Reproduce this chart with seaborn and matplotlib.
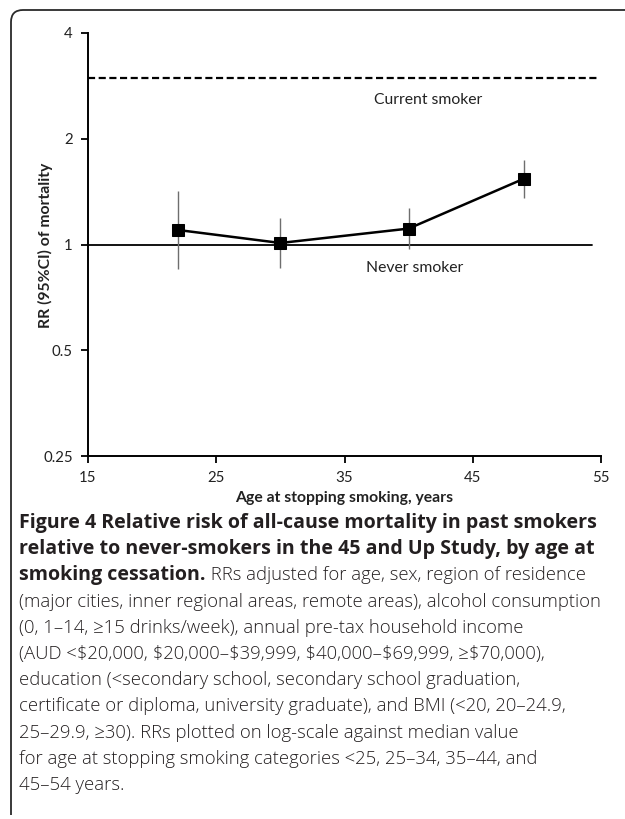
import matplotlib
matplotlib.use("Agg")
import matplotlib.pyplot as plt
import seaborn as sns
import pandas as pd
from matplotlib.path import Path
from matplotlib.patches import PathPatch

# ---------------- data ----------------
ages = [22, 30, 40, 49]
rr = [1.10, 1.01, 1.11, 1.54]
rr_lo = [0.85, 0.86, 0.97, 1.36]
rr_hi = [1.42, 1.19, 1.27, 1.74]
current_smoker_rr = 2.97
never_smoker_rr = 1.0
x_ticks = [15, 25, 35, 45, 55]
y_ticks = [0.25, 0.5, 1, 2, 4]
y_tick_labels = ["0.25", "0.5", "1", "2", "4"]
x_label = "Age at stopping smoking, years"
y_label = "RR (95%CI) of mortality"
caption_bold = [
    "Figure 4 Relative risk of all-cause mortality in past smokers",
    "relative to never-smokers in the 45 and Up Study, by age at",
    "smoking cessation.",
]
caption_regular_tail = " RRs adjusted for age, sex, region of residence"
caption_regular = [
    "(major cities, inner regional areas, remote areas), alcohol consumption",
    "(0, 1\u201314, \u226515 drinks/week), annual pre-tax household income",
    "(AUD <\\$20,000, \\$20,000\u2013\\$39,999, \\$40,000\u2013\\$69,999, \u2265\\$70,000),",
    "education (<secondary school, secondary school graduation,",
    "certificate or diploma, university graduate), and BMI (<20, 20\u201324.9,",
    "25\u201329.9, \u226530). RRs plotted on log-scale against median value",
    "for age at stopping smoking categories <25, 25\u201334, 35\u201344, and",
    "45\u201354 years.",
]

df = pd.DataFrame({"age": ages, "rr": rr, "lo": rr_lo, "hi": rr_hi})

sns.set_theme(style="white")
chart_font = ["Lato", "DejaVu Sans"]
cap_font = ["Open Sans", "DejaVu Sans"]
plt.rcParams["font.family"] = chart_font

W, H, DPI = 625, 819, 100
fig = plt.figure(figsize=(W / DPI, H / DPI), dpi=DPI)
fig.patch.set_facecolor("white")

def fx(px):
    return px / W

def fy(py):
    return 1 - py / H

ax = fig.add_axes([fx(88), fy(456), fx(601) - fx(88), fy(33) - fy(456)])
ax.set_facecolor("white")

# reference lines
ax.plot([15, 54.7], [current_smoker_rr, current_smoker_rr], color="black",
        lw=1.6, ls=(0, (3.2, 1.6)), zorder=2)
ax.plot([15, 54.3], [never_smoker_rr, never_smoker_rr], color="black",
        lw=1.3, zorder=2)

# confidence intervals
ax.vlines(df["age"], df["lo"], df["hi"], color="#6e6e6e", lw=1.0, zorder=3)

# main series
sns.lineplot(data=df, x="age", y="rr", ax=ax, color="black", lw=1.8,
             marker="s", markersize=8, markeredgecolor="black",
             markerfacecolor="black", zorder=4, legend=False)

ax.set_yscale("log", base=2)
ax.set_xlim(15, 55)
ax.set_ylim(0.25, 4)
ax.set_xticks(x_ticks)
ax.set_xticklabels([str(t) for t in x_ticks])
ax.set_yticks(y_ticks)
ax.set_yticklabels(y_tick_labels)
ax.minorticks_off()
ax.tick_params(axis="both", which="major", direction="out", length=5,
               width=1.3, color="black", labelsize=10.8, labelcolor="#222222",
               bottom=True, left=True)
ax.tick_params(axis="x", pad=6)
ax.tick_params(axis="y", pad=6)
for s in ["top", "right"]:
    ax.spines[s].set_visible(False)
for s in ["left", "bottom"]:
    ax.spines[s].set_color("black")
    ax.spines[s].set_linewidth(1.4)
ax.set_xlabel("")
ax.set_ylabel("")

ax.text(41.5, 2.58, "Current smoker", ha="center", va="center",
        fontsize=11.3, color="#222222")
ax.text(40.5, 0.86, "Never smoker", ha="center", va="center",
        fontsize=11.3, color="#222222")

fig.text(fx(344), fy(498), x_label, ha="center", va="center",
         fontsize=11.3, fontweight="bold", color="#222222")
fig.text(fx(45), fy(245), y_label, ha="center", va="center", rotation=90,
         fontsize=11.3, fontweight="bold", color="#222222")

# caption
x0 = fx(19)
line_h = 26.2
base0 = 528
bold_size = 14.1
reg_size = 13.35
for i, line in enumerate(caption_bold):
    t = fig.text(x0, fy(base0 + i * line_h), line, ha="left", va="baseline",
                 fontsize=bold_size, fontweight="bold", family=cap_font,
                 color="#231f20")
fig.canvas.draw()
r = fig.canvas.get_renderer()
bb = t.get_window_extent(renderer=r)
fig.text(bb.x1 / W, fy(base0 + 2 * line_h), caption_regular_tail, ha="left",
         va="baseline", fontsize=reg_size, family=cap_font, color="#231f20",
         fontweight="light")
for j, line in enumerate(caption_regular):
    fig.text(x0, fy(base0 + (3 + j) * line_h), line, ha="left", va="baseline",
             fontsize=reg_size, family=cap_font, color="#231f20",
             fontweight="light")

# rounded frame (top + left)
rad = 12
lx, ty, by = 11, 10, 815
verts = [(W + 5, ty), (lx + rad, ty), (lx, ty), (lx, ty + rad), (lx, by)]
codes = [Path.MOVETO, Path.LINETO, Path.CURVE3, Path.CURVE3, Path.LINETO]
verts_in = [(x / DPI, (H - y) / DPI) for x, y in verts]
frame = PathPatch(Path(verts_in, codes), transform=fig.dpi_scale_trans,
                  fill=False, lw=1.3, edgecolor="#2a2a2a")
fig.patches.append(frame)

fig.savefig("out.png", dpi=DPI, facecolor="white")
